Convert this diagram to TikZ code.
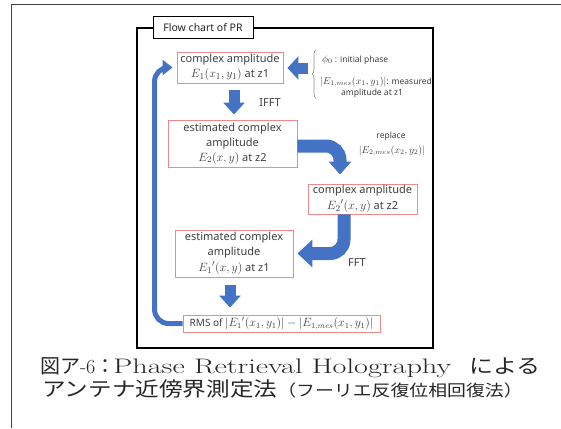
\documentclass[tikz,border=0pt]{standalone}
\usepackage{fontspec}
\setsansfont{Noto Sans}
\newfontfamily\jp{Noto Sans CJK JP}
\usetikzlibrary{arrows.meta,decorations.pathreplacing,calc}
\definecolor{arrowblue}{HTML}{4472C4}
\definecolor{boxred}{HTML}{F08A8A}
\definecolor{txt}{HTML}{404040}
\newcommand\mymath[2][13]{{\fontsize{#1}{14}\selectfont$#2$}}
\tikzset{
  box/.style={draw=boxred, line width=0.9pt, fill=white, text=txt,
    font=\sffamily\fontsize{11}{15}\selectfont, align=center, inner sep=0pt},
  note/.style={text=txt, font=\sffamily\fontsize{8.5}{10}\selectfont, inner sep=0pt},
  lbl/.style={text=txt, font=\sffamily\fontsize{11}{13}\selectfont, inner sep=0pt},
  blockarrow/.style={draw=arrowblue, line width=11pt, -{Triangle[width=21pt,length=12pt]}},
  looparrow/.style={draw=arrowblue, line width=5pt, rounded corners=14pt, -{Triangle[width=15pt,length=10pt]}},
}
\begin{document}
\begin{tikzpicture}[x=1pt,y=-1pt]
\useasboundingbox (0,0) rectangle (561,428);
% outer frame
\draw[line width=1pt, black!75] (11,428) -- (11,5) -- (561,5);
% inner frame
\draw[line width=1.5pt] (137,28) rectangle (433,348);
\node[draw=black, line width=1pt, fill=white, minimum width=100pt, minimum height=22pt,
  inner sep=0pt, font=\sffamily\fontsize{10.5}{12}\selectfont, text=black!85] (tab) at (203,28) {Flow chart of PR};
% boxes
\node[box, minimum width=106pt, minimum height=31pt] (b1) at (230,67.5)
  {complex amplitude\\\mymath{E_1(x_1,y_1)} at z1};
\node[box, minimum width=129pt, minimum height=47pt] (b2) at (232.5,143.5)
  {estimated complex\\amplitude\\\mymath{E_2(x,y)} at z2};
\node[box, minimum width=109pt, minimum height=30pt] (b3) at (362.5,199)
  {complex amplitude\\[1pt]\mymath{{E_2}'(x,y)} at z2};
\node[box, minimum width=118pt, minimum height=47pt] (b4) at (234,253.5)
  {estimated complex\\amplitude\\[1pt]\mymath{{E_1}'(x,y)} at z1};
\node[box, minimum width=197pt, minimum height=17pt, font=\sffamily\fontsize{10}{12}\selectfont] (b5) at (281.5,323.5)
  {RMS of \mymath[11.5]{|{E_1}'(x_1,y_1)|-\big|E_{1,mes}(x_1,y_1)\big|}};
% straight block arrows
\draw[blockarrow] ($(b1.south)+(4,7)$) -- ($(b2.north)+(1.5,-5)$);
\draw[blockarrow] ($(b4.south)+(-4,8)$) -- ($(b5.north)+(-51.5,-7)$);
\draw[blockarrow, -{Triangle[width=23pt,length=11pt]}] ($(b1.east)+(25,0.5)$) -- ($(b1.east)+(4,0.5)$);
% bent block arrows
\draw[blockarrow, line width=13pt, rounded corners=14pt, -{Triangle[width=22pt,length=13pt]}]
  ($(b2.east)+(0,2.5)$) -| ($(b3.north)+(-22.5,-9)$);
\draw[blockarrow, line width=13pt, rounded corners=14pt, -{Triangle[width=27pt,length=15pt]}]
  ($(b3.south)+(-18.5,0)$) |- ($(b4.east)+(4,0)$);
% loop arrow
\draw[looparrow] (b5.west) -| ($(b1.west)+(-22,0)$) -- ($(b1.west)+(-4,0)$);
% labels
\node[lbl] (ifft) at (270,103) {IFFT};
\node[lbl] (fft) at (357,263) {FFT};
% annotations
\draw[txt!60, line width=0.6pt, decorate, decoration={brace, amplitude=4pt}] (316,98) -- (316,50);
\node[note, anchor=base west] (phi) at (322,62) {\mymath[10]{\phi_0} : initial phase};
\node[note, anchor=base west] (mes) at (320,84) {\mymath[10]{|E_{1,mes}(x_1,y_1)|}: measured};
\node[note, anchor=base] (amp) at (372,95) {amplitude at z1};
\node[note, anchor=base] (rep) at (391,138) {replace};
\node[note, anchor=base] (e2m) at (392,153) {\mymath[10]{|E_{2,mes}(x_2,y_2)|}};
% caption
\node[inner sep=0pt, anchor=base west, text=black!85] (cap1) at (40,373) {\fontsize{20}{20}\selectfont{\jp 図ア}-6{\jp ：}\kern-2pt\scalebox{1.44}[1]{\fontsize{21}{21}\selectfont Phase Retrieval Holography}\hspace{18pt}\scalebox{1.2}[1]{\jp による}};
\node[inner sep=0pt, anchor=base, text=black!85] (cap2) at (282.5,396) {\scalebox{1.18}[1]{\fontsize{20}{20}\selectfont\jp アンテナ近傍界測定法\fontsize{16}{16}\selectfont（フーリエ反復位相回復法）}};
\end{tikzpicture}
\end{document}
